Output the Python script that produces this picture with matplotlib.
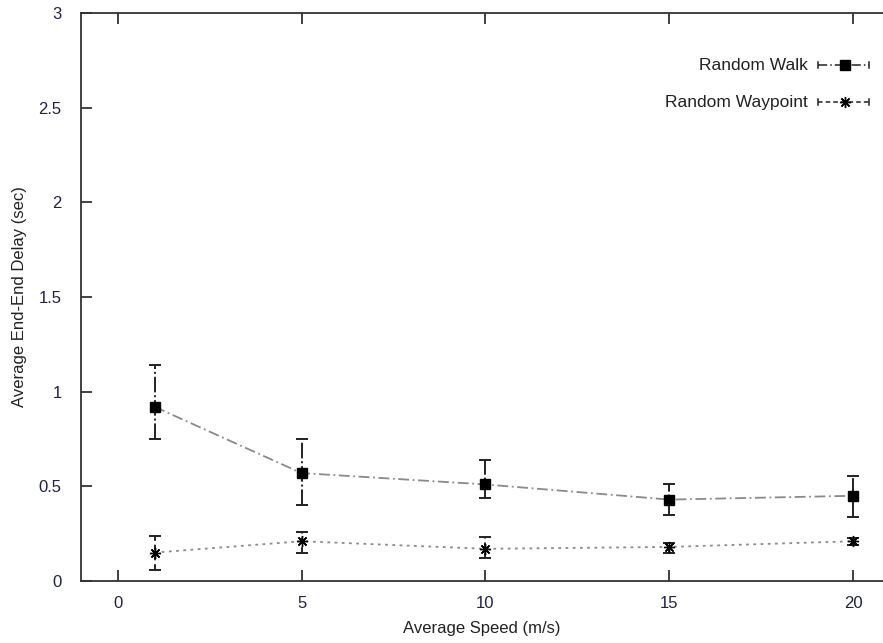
import matplotlib
matplotlib.use("Agg")
import matplotlib.pyplot as plt
from matplotlib.lines import Line2D

plt.rcParams['font.family'] = ['Liberation Sans', 'DejaVu Sans']

speeds = [1, 5, 10, 15, 20]
walk_mean = [0.92, 0.57, 0.51, 0.43, 0.45]
walk_low = [0.75, 0.40, 0.44, 0.35, 0.34]
walk_high = [1.14, 0.75, 0.64, 0.51, 0.555]
wp_mean = [0.15, 0.21, 0.17, 0.18, 0.21]
wp_low = [0.06, 0.15, 0.12, 0.15, 0.19]
wp_high = [0.24, 0.26, 0.23, 0.20, 0.225]
x_ticks = [0, 5, 10, 15, 20]
y_ticks = [0, 0.5, 1, 1.5, 2, 2.5, 3]
y_tick_labels = ['0', '0.5', '1', '1.5', '2', '2.5', '3']
series_names = ['Random Walk', 'Random Waypoint']

W, H = 883, 643
fig = plt.figure(figsize=(W / 100, H / 100), dpi=100)
ax_l, ax_r, ax_t, ax_b = 81, 883, 13, 581
ax = fig.add_axes([ax_l / W, 1 - ax_b / H, (ax_r - ax_l) / W, (ax_b - ax_t) / H])

star = (8, 2, 0)

def draw(mean, low, high, marker, msize, line_ls, bar_ls, label):
    yerr = [[m - l for m, l in zip(mean, low)], [h - m for m, h in zip(mean, high)]]
    ax.plot(speeds, mean, linestyle=line_ls, color='#8a8a8a', lw=1.3, zorder=2)
    cont = ax.errorbar(speeds, mean, yerr=yerr, fmt='none', ecolor='#222222',
                       elinewidth=1.4, capsize=4, capthick=1.4, zorder=3)
    for bl in cont[2]:
        bl.set_linestyle(bar_ls)
    ax.plot(speeds, mean, linestyle='none', marker=marker, markersize=msize,
            color='black', markeredgecolor='black', markeredgewidth=1.0, zorder=4)

draw(walk_mean, walk_low, walk_high, 's', 7, (0, (6, 2, 1, 2)), (0, (8, 1.5, 1, 1.5)), series_names[0])
draw(wp_mean, wp_low, wp_high, star, 8, (0, (1.5, 2.5)), (0, (3, 2)), series_names[1])

ax.set_xlim(-1, (ax_r - 117) / 36.8)
ax.set_ylim(0, 3)
ax.set_xticks(x_ticks)
ax.set_xticklabels([str(t) for t in x_ticks])
ax.set_yticks(y_ticks)
ax.set_yticklabels(y_tick_labels)
ax.spines['right'].set_visible(False)
for s in ['left', 'bottom', 'top']:
    ax.spines[s].set_color('#333333')
    ax.spines[s].set_linewidth(1.3)
ax.tick_params(axis='x', direction='in', top=True, length=8, width=1.3,
               pad=11, labelsize=12, colors='#333333', labelcolor='#222244')
ax.tick_params(axis='y', direction='in', right=False, length=8, width=1.3,
               pad=14, labelsize=12, colors='#333333', labelcolor='#222244')

ax.set_xlabel('Average Speed (m/s)', fontsize=12, color='#222222', labelpad=7)
ax.set_ylabel('Average End-End Delay (sec)', fontsize=12, color='#222222', labelpad=8)

# legend (gnuplot style: text then sample)
def axfrac(px, py):
    return (px - ax_l) / (ax_r - ax_l), (ax_b - py) / (ax_b - ax_t)

rows = [(65, 's', 6.5, (0, (6, 2, 1, 2)), series_names[0]),
        (102, star, 8, (0, (3, 2)), series_names[1])]
for py, mk, ms, ls, name in rows:
    tx, ty = axfrac(808, py)
    ax.text(tx, ty, name, transform=ax.transAxes, ha='right', va='center',
            fontsize=12.5, color='#222222')
    x0, y0 = axfrac(818, py)
    x1, _ = axfrac(869, py)
    xm, _ = axfrac(845, py)
    ax.add_line(Line2D([x0, x1], [y0, y0], transform=ax.transAxes, color='#222222',
                       lw=1.1, linestyle=ls, clip_on=False))
    cap = 6 / (ax_b - ax_t) / 2
    for xx in (x0, x1):
        ax.add_line(Line2D([xx, xx], [y0 - cap, y0 + cap], transform=ax.transAxes,
                           color='#222222', lw=1.1, clip_on=False))
    ax.add_line(Line2D([xm], [y0], transform=ax.transAxes, marker=mk, markersize=ms,
                       color='black', markeredgewidth=1.0, linestyle='none', clip_on=False))

fig.savefig('out.png', dpi=100)
